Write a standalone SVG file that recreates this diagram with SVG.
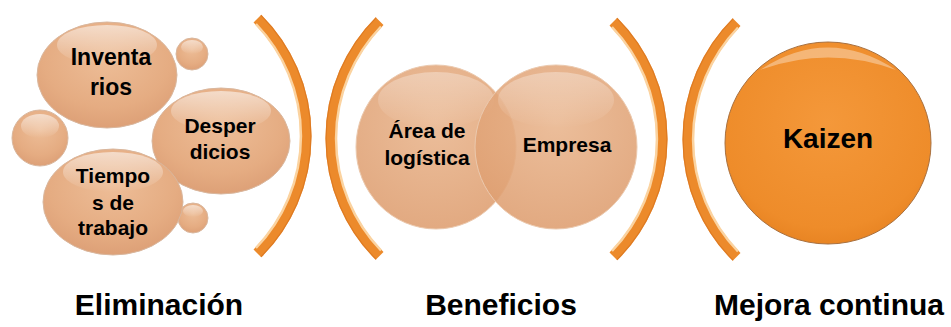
<svg xmlns="http://www.w3.org/2000/svg" width="951" height="327" viewBox="0 0 951 327">
<defs>
  <radialGradient id="peach" cx="0.5" cy="0.35" r="0.65">
    <stop offset="0" stop-color="#EDBD97"/>
    <stop offset="0.7" stop-color="#E5AC82"/>
    <stop offset="1" stop-color="#DDA077"/>
  </radialGradient>
  <radialGradient id="peachT" cx="0.5" cy="0.35" r="0.65">
    <stop offset="0" stop-color="#E9B58D" stop-opacity="0.88"/>
    <stop offset="1" stop-color="#DE9E70" stop-opacity="0.88"/>
  </radialGradient>
  <radialGradient id="orange" cx="0.5" cy="0.4" r="0.65">
    <stop offset="0" stop-color="#F4983A"/>
    <stop offset="0.8" stop-color="#EE8C2A"/>
    <stop offset="1" stop-color="#E5801F"/>
  </radialGradient>
  <linearGradient id="shine" x1="0" y1="0" x2="0" y2="1">
    <stop offset="0" stop-color="#FFFFFF" stop-opacity="0.55"/>
    <stop offset="1" stop-color="#FFFFFF" stop-opacity="0"/>
  </linearGradient>
  <g id="bracket">
    <path d="M 117.4 -117.4 A 166 166 0 0 1 117.4 117.4" fill="none" stroke="#EC8A2B" stroke-width="11"/>
    <path d="M 120.9 -120.9 A 171 171 0 0 1 120.9 120.9" fill="none" stroke="#D8741C" stroke-width="1.2" opacity="0.7"/>
    <path d="M 116 -112 A 162 162 0 0 1 116 112" fill="none" stroke="#FBD3A0" stroke-width="2.5"/>
  </g>
</defs>
<style>
  .bub { fill: url(#peach); stroke: #D9B79E; stroke-width: 1; }
  .bubT { fill: url(#peachT); stroke: #EBC9AE; stroke-width: 1; }
  .gloss { fill: url(#shine); }
  .t { font-family: "Liberation Sans", Arial, sans-serif; font-weight: bold; fill: #000; text-anchor: middle; }
  .s21 { font-size: 21px; }
  .lbl { font-size: 30px; }
</style>

<g id="brackets">
  <use href="#bracket" transform="translate(140,136)"/>
  <use href="#bracket" transform="translate(497,138.5) scale(-1,1)"/>
  <use href="#bracket" transform="translate(496,139)"/>
  <use href="#bracket" transform="translate(854,139.5) scale(-1,1)"/>
</g>

<g id="eliminacion">
  <g id="bubble-small-1">
    <circle class="bub" cx="192" cy="54" r="16"/>
    <ellipse class="gloss" cx="192" cy="47" rx="11" ry="7"/>
  </g>
  <g id="bubble-small-2">
    <circle class="bub" cx="40" cy="138" r="28"/>
    <ellipse class="gloss" cx="40" cy="126" rx="19" ry="12"/>
  </g>
  <g id="bubble-small-3">
    <circle class="bub" cx="193" cy="218" r="15"/>
    <ellipse class="gloss" cx="193" cy="211" rx="10" ry="6"/>
  </g>
  <g id="inventarios">
    <ellipse class="bub" cx="107" cy="75" rx="70" ry="53"/>
    <ellipse class="gloss" cx="107" cy="45" rx="50" ry="20"/>
    <text class="t" x="111" y="65" font-size="23">Inventa</text>
    <text class="t" x="111" y="95" font-size="23">rios</text>
  </g>
  <g id="desperdicios">
    <ellipse class="bub" cx="221" cy="141" rx="69" ry="53"/>
    <ellipse class="gloss" cx="221" cy="111" rx="50" ry="20"/>
    <text class="t s21" x="220" y="133">Desper</text>
    <text class="t s21" x="220" y="159">dicios</text>
  </g>
  <g id="tiempos">
    <ellipse class="bub" cx="113" cy="202" rx="70" ry="53"/>
    <ellipse class="gloss" cx="113" cy="172" rx="50" ry="20"/>
    <text class="t s21" x="113" y="183">Tiempo</text>
    <text class="t s21" x="113" y="210">s de</text>
    <text class="t s21" x="113" y="235">trabajo</text>
  </g>
</g>

<g id="beneficios">
  <g id="area-logistica">
    <ellipse class="bubT" cx="436" cy="147" rx="80" ry="82"/>
    <ellipse class="gloss" cx="436" cy="100" rx="58" ry="28" opacity="0.6"/>
  </g>
  <g id="empresa">
    <ellipse class="bubT" cx="556" cy="147" rx="81" ry="82"/>
    <ellipse class="gloss" cx="556" cy="100" rx="58" ry="28" opacity="0.6"/>
  </g>
  <text class="t s21" x="427" y="138">Área de</text>
  <text class="t s21" x="427" y="165">logística</text>
  <text class="t s21" x="567" y="152">Empresa</text>
</g>

<g id="kaizen">
  <ellipse cx="828" cy="143" rx="103" ry="101" fill="url(#orange)" stroke="#A8703F" stroke-width="1"/>
  <path d="M 760 70 Q 828 25 896 70 Q 828 45 760 70 Z" fill="#FFFFFF" opacity="0.35"/>
  <text class="t" x="828" y="148" font-size="28">Kaizen</text>
</g>

<g id="labels">
  <text class="t lbl" x="159" y="315">Eliminación</text>
  <text class="t lbl" x="501" y="315">Beneficios</text>
  <text class="t lbl" x="829" y="315">Mejora continua</text>
</g>
</svg>
